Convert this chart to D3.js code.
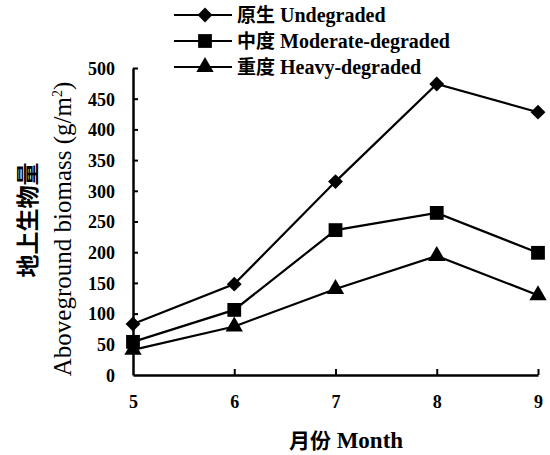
<!DOCTYPE html>
<html><head><meta charset="utf-8">
<script src="https://cdn.jsdelivr.net/npm/d3@7"></script>
<style>body{margin:0;background:#fff}svg{display:block}</style>
</head><body>
<svg id="c" width="550" height="455"></svg>
<script>
const months = [5, 6, 7, 8, 9];
const undegraded = [83, 148, 315, 474, 428];
const moderate = [54, 106, 236, 264, 199];
const heavy = [41, 79, 140, 194, 130];
const yTicks = [0, 50, 100, 150, 200, 250, 300, 350, 400, 450, 500];
const seriesNames = ["原生 Undegraded", "中度 Moderate-degraded", "重度 Heavy-degraded"];

const svg = d3.select("#c");
const serif = "'Liberation Serif','Times New Roman',serif";
const cjk = "'Noto Sans CJK SC'";
const x = d3.scaleLinear().domain([5, 9]).range([133, 538]);
const y = d3.scaleLinear().domain([0, 500]).range([375, 68]);

const diamond = d3.symbol(d3.symbolSquare, 110);
const square = d3.symbol(d3.symbolSquare, 190);
const triangle = d3.symbol(d3.symbolTriangle, 130);
const markers = [
  { d: diamond, rot: 45 },
  { d: square, rot: 0 },
  { d: triangle, rot: 0 }
];

// axes
const gx = svg.append("g").attr("transform", "translate(0,375)")
  .call(d3.axisBottom(x).tickValues(months).tickSizeInner(-6).tickSizeOuter(0).tickPadding(20).tickFormat(d3.format("d")));
const gy = svg.append("g").attr("transform", "translate(133,0)")
  .call(d3.axisLeft(y).tickValues(yTicks).tickSizeInner(-5).tickSizeOuter(0).tickPadding(18));
[gx, gy].forEach(g => {
  g.select(".domain").attr("stroke", "#000").attr("stroke-width", 2.5);
  g.selectAll(".tick line").attr("stroke", "#000").attr("stroke-width", 2);
  g.selectAll("text").attr("fill", "#000").style("font-family", serif)
    .style("font-size", "18px").style("font-weight", "bold");
});
gx.selectAll(".tick").filter(d => d === 5).select("line").remove();
gy.selectAll(".tick").filter(d => d === 0).select("line").remove();
gy.selectAll("text").attr("dy", "0.35em");

// titles
svg.append("text").attr("x", 346).attr("y", 448).attr("text-anchor", "middle")
  .style("font-family", serif).style("font-size", "23px").style("font-weight", "bold")
  .html(`<tspan style="font-family:${cjk};font-size:21px">月份</tspan> Month`);
svg.append("text").attr("transform", "translate(71,229) rotate(-90)").attr("text-anchor", "middle")
  .style("font-family", serif).style("font-size", "25px")
  .html("Aboveground biomass (g/m<tspan dy='-9' font-size='14'>2</tspan><tspan dy='9'>)</tspan>");
svg.append("text").attr("transform", "translate(36,220) rotate(-90)").attr("text-anchor", "middle")
  .style("font-family", cjk).style("font-size", "23px").style("font-weight", "bold")
  .text("地上生物量");

// series
const data = [undegraded, moderate, heavy];
const line = d3.line().x((d, i) => x(months[i])).y(d => y(d));
data.forEach((vals, si) => {
  svg.append("path").datum(vals).attr("d", line).attr("fill", "none")
    .attr("stroke", "#000").attr("stroke-width", 2.2);
  svg.selectAll(null).data(vals).enter().append("path")
    .attr("transform", (d, i) => `translate(${x(months[i])},${y(d)}) rotate(${markers[si].rot})`)
    .attr("d", markers[si].d).attr("fill", "#000");
});

// legend
const leg = svg.append("g");
seriesNames.forEach((name, i) => {
  const ly = 15 + i * 26;
  leg.append("line").attr("x1", 174).attr("x2", 232).attr("y1", ly).attr("y2", ly)
    .attr("stroke", "#000").attr("stroke-width", 2.2);
  leg.append("path").attr("transform", `translate(205,${ly}) rotate(${markers[i].rot})`)
    .attr("d", markers[i].d).attr("fill", "#000");
  const sp = name.indexOf(" ");
  leg.append("text").attr("x", 237).attr("y", ly).attr("dy", "0.35em")
    .style("font-family", serif).style("font-size", "20px").style("font-weight", "bold")
    .html(`<tspan style="font-family:${cjk};font-size:19px">${name.slice(0, sp)}</tspan> ${name.slice(sp + 1)}`);
});
</script>
</body></html>
